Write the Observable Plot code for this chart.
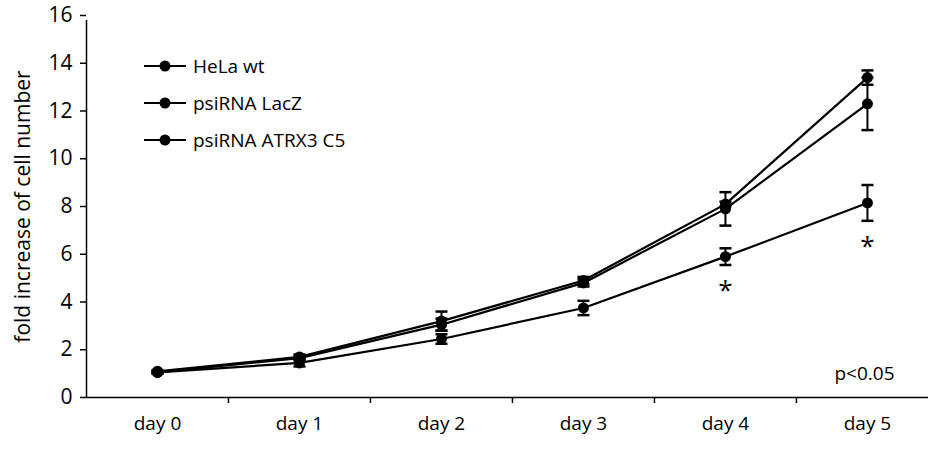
<!DOCTYPE html>
<html>
<head>
<meta charset="utf-8">
<script src="https://cdn.jsdelivr.net/npm/d3@7"></script>
<script src="https://cdn.jsdelivr.net/npm/@observablehq/plot@0.6"></script>
<style>
  html, body { margin: 0; padding: 0; background: #fff; }
  #wrap { position: relative; width: 928px; height: 453px; font-family: "Open Sans", sans-serif; }
  #legend { position: absolute; left: 144px; top: 53px; font-size: 19px; color: #000; }
  .row { display: flex; align-items: center; height: 26px; margin-bottom: 11px; }
  .row svg { margin-right: 7px; }
</style>
</head>
<body>
<div id="wrap">
  <div id="chart"></div>
  <div id="legend"></div>
</div>
<script>
const days = [0, 1, 2, 3, 4, 5];
const dayLabels = ["day 0", "day 1", "day 2", "day 3", "day 4", "day 5"];
const seriesNames = ["HeLa wt", "psiRNA LacZ", "psiRNA ATRX3 C5"];
const helaWt = [1.10, 1.70, 3.20, 4.90, 8.10, 13.40];
const helaWtErr = [0.05, 0.10, 0.40, 0.15, 0.10, 0.30];
const lacZ = [1.05, 1.65, 3.05, 4.80, 7.90, 12.30];
const lacZErr = [0.05, 0.10, 0.25, 0.15, 0.70, 1.10];
const atrx = [1.05, 1.45, 2.45, 3.75, 5.90, 8.15];
const atrxErr = [0.05, 0.15, 0.20, 0.30, 0.35, 0.75];
const yTicks = [0, 2, 4, 6, 8, 10, 12, 14, 16];
const boundaryTicks = [0.5, 1.5, 2.5, 3.5, 4.5];
const significantDays = [4, 5];
const pLabel = "p<0.05";
const yLabel = "fold increase of cell number";

const values = [helaWt, lacZ, atrx];
const errors = [helaWtErr, lacZErr, atrxErr];
const data = seriesNames.flatMap((s, i) =>
  days.map((d, j) => ({series: s, day: d, value: values[i][j], err: errors[i][j]}))
);
const sig = significantDays.map(d => ({day: d, value: atrx[d], err: atrxErr[d]}));

const capSymbol = {
  draw(ctx, size) {
    const w = Math.sqrt(size / Math.PI);
    ctx.moveTo(-w, 0);
    ctx.lineTo(w, 0);
  }
};

const FONT = "Open Sans, sans-serif";

const chart = Plot.plot({
  width: 928,
  height: 453,
  marginLeft: 86,
  marginRight: 0,
  marginTop: 15,
  marginBottom: 56,
  style: {fontFamily: FONT, background: "#fff", color: "#000"},
  x: {domain: [-0.5, 5.43], axis: null},
  y: {domain: [0, 16], axis: null},
  marks: [
    Plot.ruleY([0], {stroke: "#000", strokeWidth: 1.5}),
    Plot.ruleX([-0.5], {y1: 0, y2: 16, stroke: "#000", strokeWidth: 1.5, insetBottom: -5}),
    Plot.axisY({ticks: yTicks, tickSize: 6, tickPadding: 8, fontSize: 21, label: null, strokeWidth: 1.5}),
    Plot.text([yLabel], {frameAnchor: "left", rotate: -90, dx: -63, fontSize: 21, textAnchor: "middle", lineAnchor: "middle"}),
    Plot.axisX({ticks: boundaryTicks, tickSize: 6, tickFormat: () => "", label: null, strokeWidth: 1.5}),
    Plot.axisX({ticks: days, tickSize: 0, tickPadding: 19, tickFormat: d => dayLabels[d], fontSize: 19, label: null}),
    Plot.line(data, {x: "day", y: "value", z: "series", stroke: "#000", strokeWidth: 2.2}),
    Plot.ruleX(data, {x: "day", y1: d => d.value - d.err, y2: d => d.value + d.err, stroke: "#000", strokeWidth: 2}),
    Plot.dot(data, {x: "day", y: d => d.value - d.err, symbol: capSymbol, r: 6, stroke: "#000", strokeWidth: 2.5}),
    Plot.dot(data, {x: "day", y: d => d.value + d.err, symbol: capSymbol, r: 6, stroke: "#000", strokeWidth: 2.5}),
    Plot.dot(data, {x: "day", y: "value", r: 5.5, fill: "#000"}),
    Plot.text(sig, {x: "day", y: d => d.value - d.err, text: () => "*", dy: 26, fontSize: 26}),
    Plot.text([pLabel], {frameAnchor: "bottom-right", dx: -34, dy: -24, fontSize: 19, lineAnchor: "middle"})
  ]
});
document.getElementById("chart").appendChild(chart);

const legend = document.getElementById("legend");
seriesNames.forEach(name => {
  const row = document.createElement("div");
  row.className = "row";
  row.innerHTML = `<svg width="42" height="12"><line x1="0" y1="6" x2="42" y2="6" stroke="#000" stroke-width="2.2"/><circle cx="21" cy="6" r="5.5" fill="#000"/></svg><span>${name}</span>`;
  legend.appendChild(row);
});
</script>
</body>
</html>
